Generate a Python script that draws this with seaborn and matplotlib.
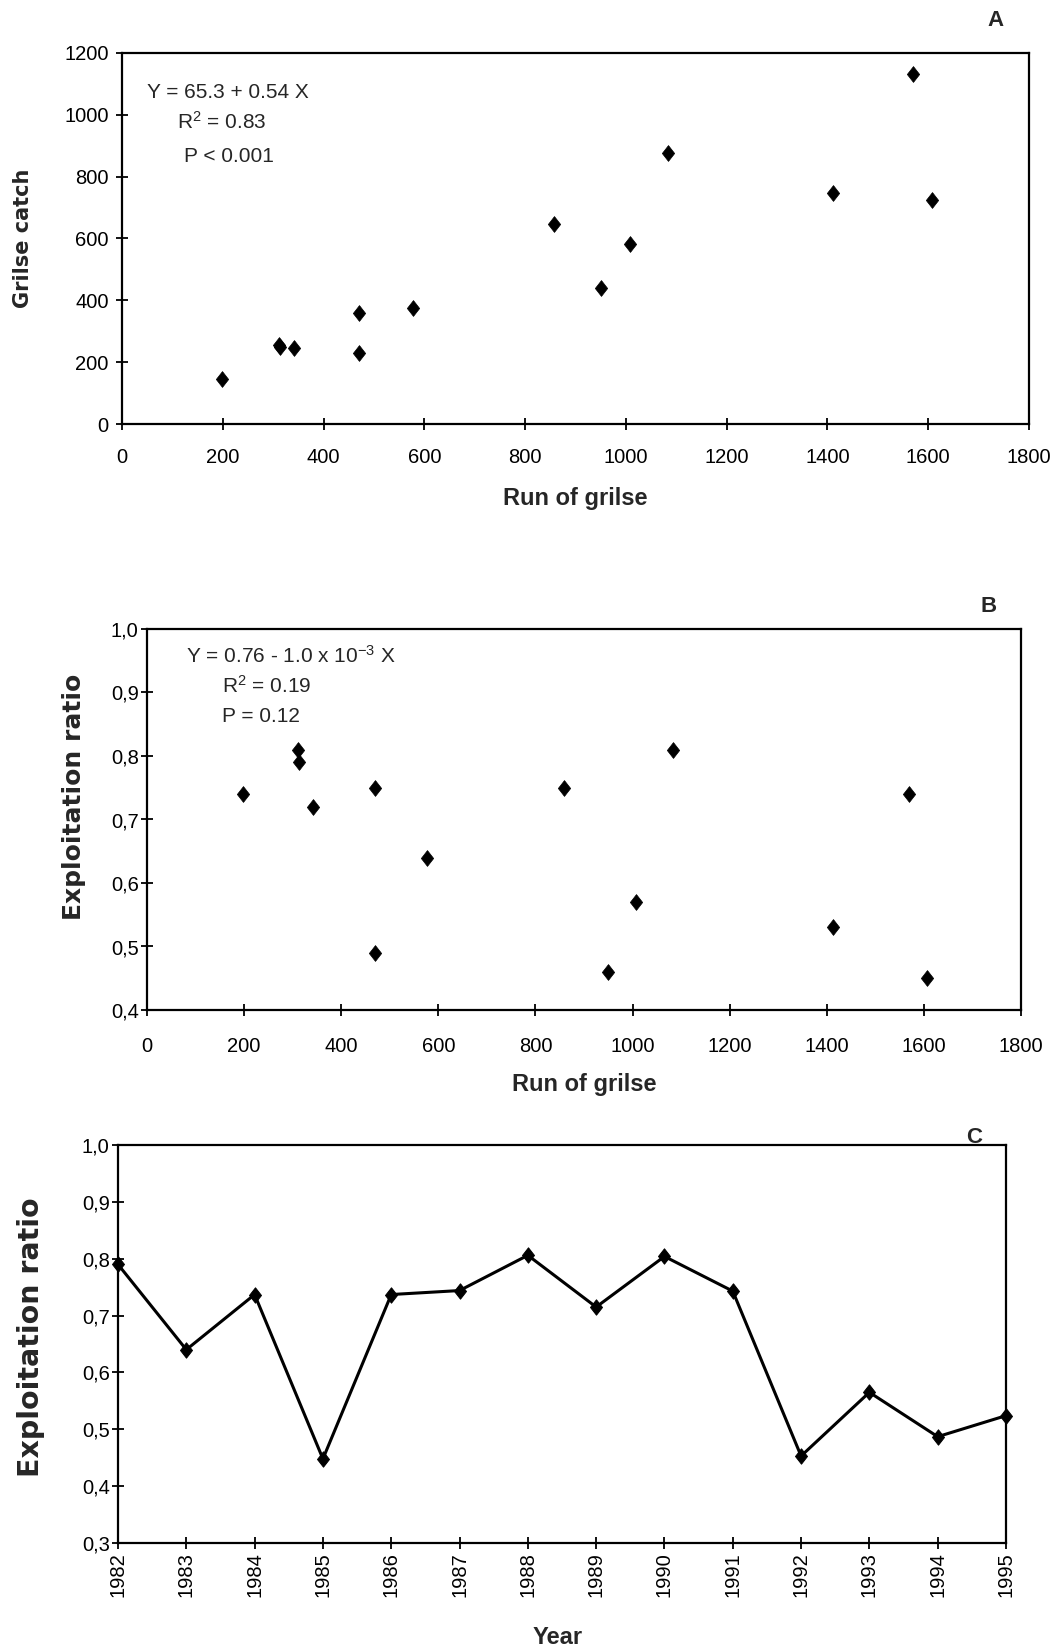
import numpy as np
import pandas as pd
import matplotlib
matplotlib.use("Agg")
import matplotlib.pyplot as plt
from matplotlib.path import Path
from matplotlib.ticker import FuncFormatter, MultipleLocator
import seaborn as sns

# ---- data ----
run_grilse = [198, 312, 314, 342, 470, 470, 577, 858, 950, 1008, 1083, 1412, 1570, 1607]
grilse_catch = [145, 255, 249, 246, 360, 231, 374, 647, 440, 582, 877, 748, 1133, 724]
exploit_ratio = [0.74, 0.81, 0.79, 0.72, 0.75, 0.49, 0.64, 0.75, 0.46, 0.57, 0.81, 0.53, 0.74, 0.45]
years = [1982, 1983, 1984, 1985, 1986, 1987, 1988, 1989, 1990, 1991, 1992, 1993, 1994, 1995]
ratio_by_year = [0.79, 0.64, 0.737, 0.448, 0.737, 0.744, 0.806, 0.715, 0.804, 0.743, 0.453, 0.565, 0.487, 0.524]

dfA = pd.DataFrame({"run": run_grilse, "catch": grilse_catch})
dfB = pd.DataFrame({"run": run_grilse, "ratio": exploit_ratio})
dfC = pd.DataFrame({"year": years, "ratio": ratio_by_year})

sns.set_theme(style="white")
plt.rcParams["font.family"] = ["Liberation Sans", "DejaVu Sans"]
plt.rcParams["mathtext.fontset"] = "custom"
plt.rcParams["mathtext.rm"] = "Liberation Sans"
plt.rcParams["mathtext.it"] = "Liberation Sans"

diamond = Path([(0, 1), (0.78, 0), (0, -1), (-0.78, 0), (0, 1)],
               [Path.MOVETO, Path.LINETO, Path.LINETO, Path.LINETO, Path.CLOSEPOLY])

W, H = 1061, 1651
fig = plt.figure(figsize=(W / 100, H / 100), dpi=100)
fig.patch.set_facecolor("white")

def rect(l, r, t, b):
    return [l / W, 1 - b / H, (r - l) / W, (b - t) / H]

axA = fig.add_axes(rect(122, 1029, 53, 424))
axB = fig.add_axes(rect(147, 1021, 629, 1010))
axC = fig.add_axes(rect(118, 1006, 1145, 1543))

comma = FuncFormatter(lambda v, p: f"{v:.1f}".replace(".", ","))

def style(ax, xpad, ypad):
    for s in ax.spines.values():
        s.set_visible(True)
        s.set_color("black")
        s.set_linewidth(1.6)
    ax.set_facecolor("white")
    ax.tick_params(axis="both", direction="inout", length=9, width=1.3,
                   color="black", labelsize=14.5, labelcolor="black",
                   bottom=True, left=True, top=False, right=False)
    ax.tick_params(axis="x", pad=xpad)
    ax.tick_params(axis="y", pad=ypad)
    ax.grid(False)

# ---- Panel A ----
sns.scatterplot(data=dfA, x="run", y="catch", ax=axA, marker=diamond, s=130,
                color="black", edgecolor="black", linewidth=0.5, zorder=3)
axA.set_xlim(0, 1800)
axA.set_ylim(0, 1200)
axA.xaxis.set_major_locator(MultipleLocator(200))
axA.yaxis.set_major_locator(MultipleLocator(200))
style(axA, 13, 5)
axA.set_xlabel("Run of grilse", fontsize=17, fontweight="bold", va="center")
axA.xaxis.set_label_coords(0.5, (424 - 498) / 371)
axA.set_ylabel("Grilse catch", fontsize=15, fontweight="bold", va="center",
               family="DejaVu Sans")
axA.yaxis.set_label_coords((23 - 122) / 907, 0.5)
fig.text(147 / W, 1 - 92 / H, "Y = 65.3 + 0.54 X", fontsize=15, va="center")
fig.text(177 / W, 1 - 122 / H, "R$^2$ = 0.83", fontsize=15, va="center")
fig.text(184 / W, 1 - 156 / H, "P < 0.001", fontsize=15, va="center")
fig.text(995 / W, 1 - 21 / H, "A", fontsize=16, fontweight="bold", ha="center", va="center")

# ---- Panel B ----
sns.scatterplot(data=dfB, x="run", y="ratio", ax=axB, marker=diamond, s=130,
                color="black", edgecolor="black", linewidth=0.5, zorder=3)
axB.set_xlim(0, 1800)
axB.set_ylim(0.4, 1.0)
axB.xaxis.set_major_locator(MultipleLocator(200))
axB.yaxis.set_major_locator(MultipleLocator(0.1))
axB.yaxis.set_major_formatter(comma)
style(axB, 15, 1.5)
axB.set_xlabel("Run of grilse", fontsize=17, fontweight="bold", va="center")
axB.xaxis.set_label_coords(0.5, (1010 - 1084) / 381)
axB.set_ylabel("Exploitation ratio", fontsize=18, fontweight="bold", va="center",
               family="DejaVu Sans")
axB.yaxis.set_label_coords((74 - 147) / 874, 0.56)
fig.text(186 / W, 1 - 656 / H, "Y = 0.76 - 1.0 x 10$^{-3}$ X", fontsize=15, va="center")
fig.text(222 / W, 1 - 686 / H, "R$^2$ = 0.19", fontsize=15, va="center")
fig.text(222 / W, 1 - 716 / H, "P = 0.12", fontsize=15, va="center")
fig.text(989 / W, 1 - 606 / H, "B", fontsize=16, fontweight="bold", ha="center", va="center")

# ---- Panel C ----
sns.lineplot(data=dfC, x="year", y="ratio", ax=axC, color="black", linewidth=2.2,
             marker=diamond, markersize=11, markeredgecolor="black",
             markerfacecolor="black", clip_on=False, zorder=3)
axC.set_xlim(1982, 1995)
axC.set_ylim(0.3, 1.0)
axC.set_xticks(years)
axC.set_xticklabels([str(y) for y in years], rotation=90)
axC.yaxis.set_major_locator(MultipleLocator(0.1))
axC.yaxis.set_major_formatter(comma)
style(axC, 2, 1.5)
axC.set_xlabel("Year", fontsize=17, fontweight="bold", va="center")
axC.xaxis.set_label_coords((558 - 118) / 888, (1543 - 1637) / 398)
axC.set_ylabel("Exploitation ratio", fontsize=20.5, fontweight="bold", va="center",
               family="DejaVu Sans")
axC.yaxis.set_label_coords((31 - 118) / 888, 0.518)
fig.text(974 / W, 1 - 1137 / H, "C", fontsize=16, fontweight="bold", ha="center", va="center")

fig.savefig("out.png", dpi=100, facecolor="white")
